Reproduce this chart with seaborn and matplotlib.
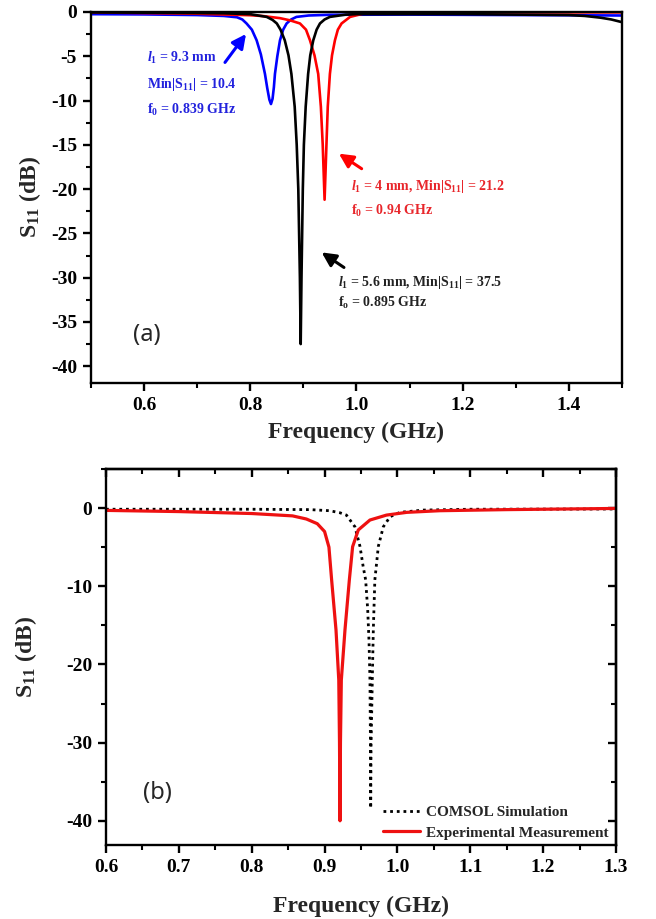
import numpy as np
import pandas as pd
import matplotlib
matplotlib.use("Agg")
import matplotlib.pyplot as plt
from matplotlib.ticker import MultipleLocator, FixedLocator
import seaborn as sns

# ---- (a) S11 for three stub lengths l1 ----
blue_f = [0.50, 0.60, 0.70, 0.75, 0.775, 0.785, 0.793, 0.803, 0.812, 0.820, 0.8277, 0.832, 0.836,
          0.839, 0.842, 0.8445, 0.8465, 0.851, 0.856, 0.862, 0.8685, 0.877, 0.887, 0.91, 0.95, 1.10,
          1.30, 1.50]
blue_db = [-0.25, -0.28, -0.35, -0.45, -0.6, -0.85, -1.3, -2.0, -3.2, -4.8, -7.0, -8.6, -9.9,
           -10.4, -9.8, -8.5, -7.0, -5.0, -3.2, -2.0, -1.3, -0.85, -0.56, -0.4, -0.32, -0.3,
           -0.35, -0.4]

black_f = [0.50, 0.65, 0.75, 0.80, 0.831, 0.842, 0.85, 0.857, 0.865, 0.872, 0.8775, 0.8837,
           0.8875, 0.8905, 0.8935, 0.895, 0.8965, 0.899, 0.901, 0.9044, 0.909, 0.913, 0.9187,
           0.925, 0.9313, 0.94, 0.95, 0.98, 1.0, 1.2, 1.3, 1.4, 1.43, 1.46, 1.48, 1.5]
black_db = [-0.05, -0.1, -0.15, -0.25, -0.56, -0.9, -1.3, -2.0, -3.2, -4.9, -7.0, -10.7,
            -15.0, -20.0, -30.0, -37.5, -30.0, -20.0, -15.0, -10.7, -7.0, -4.9, -3.2,
            -2.0, -1.3, -0.85, -0.56, -0.3, -0.25, -0.25, -0.3, -0.35, -0.45, -0.65, -0.85, -1.15]

red_f = [0.50, 0.70, 0.80, 0.825, 0.856, 0.875, 0.8936, 0.905, 0.9125, 0.921, 0.928, 0.933,
         0.9365, 0.94, 0.9435, 0.946, 0.950, 0.954, 0.9595, 0.965, 0.972, 0.988, 1.012, 1.10,
         1.30, 1.50]
red_db = [-0.05, -0.2, -0.37, -0.47, -0.7, -0.95, -1.3, -2.0, -3.2, -4.9, -7.0, -10.7,
          -15.0, -21.2, -15.0, -10.7, -7.0, -4.9, -3.2, -2.0, -1.3, -0.56, -0.2, -0.1,
          -0.05, -0.05]

# ---- (b) simulation vs measurement ----
sim_f = [0.60, 0.80, 0.88, 0.907, 0.921, 0.930, 0.9417, 0.9486, 0.953, 0.9564, 0.9592, 0.9610,
         0.9623, 0.9630, 0.9633, 0.9638, 0.9655, 0.9669, 0.969, 0.9738, 0.9806, 0.990, 1.0035,
         1.0355, 1.10, 1.30]
sim_db = [-0.15, -0.15, -0.2, -0.34, -0.6, -0.9, -2.4, -4.9, -7.5, -9.2, -13.0, -17.0,
          -22.0, -30.5, -38.4, -30.5, -22.0, -15.6, -9.2, -4.9, -2.4, -1.1, -0.55,
          -0.26, -0.15, -0.12]

meas_f = [0.60, 0.70, 0.80, 0.856, 0.875, 0.890, 0.900, 0.906, 0.9097, 0.9157, 0.9195, 0.9205,
          0.9212, 0.9218, 0.923, 0.928, 0.934, 0.9385, 0.9463, 0.9623, 0.985, 1.0127, 1.058,
          1.15, 1.20, 1.30]
meas_db = [-0.3, -0.45, -0.7, -1.0, -1.4, -2.0, -3.0, -5.0, -9.2, -15.6, -22.0, -30.0,
           -40.0, -30.0, -22.0, -15.6, -9.2, -4.94, -2.8, -1.53, -0.9, -0.55, -0.34,
           -0.2, -0.15, -0.05]

sns.set_theme(style="ticks")
plt.rcParams.update({
    "font.family": ["Liberation Serif", "DejaVu Serif"],
    "font.weight": "bold",
    "axes.labelweight": "bold",
    "mathtext.fontset": "custom",
    "mathtext.rm": "Liberation Serif:bold",
    "mathtext.it": "Liberation Serif:bold:italic",
    "mathtext.bf": "Liberation Serif:bold",
    "axes.linewidth": 1.7,
    "axes.edgecolor": "black",
    "xtick.color": "black",
    "ytick.color": "black",
})

fig = plt.figure(figsize=(6.56, 9.19), dpi=100)
ax1 = fig.add_axes([0.1387, 0.5832, 0.8093, 0.4038])
ax2 = fig.add_axes([0.1616, 0.0805, 0.7774, 0.4092])

BLUE, RED, BLACK = "#0000ff", "#ff0000", "#000000"

for f, d, c in [(blue_f, blue_db, BLUE), (red_f, red_db, RED), (black_f, black_db, BLACK)]:
    sns.lineplot(x=f, y=d, ax=ax1, color=c, lw=1.9, estimator=None, sort=False)

ax1.set_xlim(0.5, 1.5)
ax1.set_ylim(-41.9, 0)
ax1.xaxis.set_major_locator(FixedLocator([0.6, 0.8, 1.0, 1.2, 1.4]))
ax1.xaxis.set_minor_locator(MultipleLocator(0.1))
ax1.set_yticks([0, -5, -10, -15, -20, -25, -30, -35, -40])
ax1.set_yticklabels(["0", "-5", "-10", "-15", "-20", "-25", "-30", "-35", "-40"])
ax1.yaxis.set_minor_locator(MultipleLocator(2.5))
ax1.set_xticklabels(["0.6", "0.8", "1.0", "1.2", "1.4"])

ann_kw = dict(fontsize=10, fontweight="bold", ha="left", va="center")
ax1.text(0.605, -5.25, r"$l_1$ = 9.3 mm", color="#2222dd", **ann_kw)
ax1.text(0.605, -8.14, r"Min|S$_{11}$| = 10.4", color="#2222dd", **ann_kw)
ax1.text(0.605, -11.07, r"f$_0$ = 0.839 GHz", color="#2222dd", **ann_kw)
ax1.text(0.990, -19.7, r"$l_1$ = 4 mm, Min|S$_{11}$| = 21.2", color="#e8262b", **ann_kw)
ax1.text(0.990, -22.5, r"f$_0$ = 0.94 GHz", color="#e8262b", **ann_kw)
ax1.text(0.966, -30.5, r"$l_1$ = 5.6 mm, Min|S$_{11}$| = 37.5", color="#222222", **ann_kw)
ax1.text(0.966, -32.9, r"f$_{\mathregular{o}}$ = 0.895 GHz", color="#222222", **ann_kw)

arrow = dict(arrowstyle="-|>,head_length=0.7,head_width=0.35", lw=2.2, shrinkA=0, shrinkB=0)
ax1.annotate("", xy=(0.792, -2.49), xytext=(0.7524, -5.7), arrowprops=dict(color=BLUE, **arrow))
ax1.annotate("", xy=(0.967, -16.0), xytext=(1.0098, -17.7), arrowprops=dict(color=RED, **arrow))
ax1.annotate("", xy=(0.9345, -27.15), xytext=(0.9765, -28.85), arrowprops=dict(color=BLACK, **arrow))

ax1.text(0.605, -36.5, "(a)", fontsize=17, fontweight="normal", family=["Noto Sans", "DejaVu Sans"],
         ha="center", va="center")

# ---- panel (b) ----
sns.lineplot(x=sim_f, y=sim_db, ax=ax2, color=BLACK, lw=2.0, estimator=None, sort=False,
             label="COMSOL Simulation", linestyle=(0, (1, 1.4)))
sns.lineplot(x=meas_f, y=meas_db, ax=ax2, color="#ee1111", lw=2.3, estimator=None, sort=False,
             label="Experimental Measurement")
ax2.lines[0].set_dash_capstyle("butt")

ax2.set_xlim(0.6, 1.3)
ax2.set_ylim(-43.1, 5)
ax2.set_xticks(np.round(np.arange(0.6, 1.31, 0.1), 1))
ax2.set_xticklabels(["0.6", "0.7", "0.8", "0.9", "1.0", "1.1", "1.2", "1.3"])
ax2.xaxis.set_minor_locator(MultipleLocator(0.05))
ax2.set_yticks([0, -10, -20, -30, -40])
ax2.set_yticklabels(["0", "-10", "-20", "-30", "-40"])
ax2.yaxis.set_minor_locator(MultipleLocator(5))

leg = ax2.legend(loc="upper left", bbox_to_anchor=(0.543, 0.105), frameon=False,
                 prop={"family": "Liberation Serif", "weight": "bold", "size": 11},
                 handlelength=2.4, handletextpad=0.4, labelspacing=0.45, borderaxespad=0,
                 borderpad=0)
ax2.text(0.67, -36.4, "(b)", fontsize=17, fontweight="normal", family=["Noto Sans", "DejaVu Sans"],
         ha="center", va="center")

# mirrored inward ticks on top and right of (b)
sx = ax2.secondary_xaxis("top")
sx.set_xticks(np.round(np.arange(0.6, 1.31, 0.1), 1))
sx.xaxis.set_minor_locator(MultipleLocator(0.05))
sx.tick_params(which="major", direction="in", length=6, width=1.7, labeltop=False)
sx.tick_params(which="minor", direction="in", length=3.5, width=1.5)
sy = ax2.secondary_yaxis("right")
sy.set_yticks([0, -10, -20, -30, -40])
sy.yaxis.set_minor_locator(MultipleLocator(5))
sy.tick_params(which="major", direction="in", length=6, width=1.7, labelright=False)
sy.tick_params(which="minor", direction="in", length=3.5, width=1.5)

for ax in (ax1, ax2):
    for s in ax.spines.values():
        s.set_visible(True)
        s.set_linewidth(1.7)
    ax.tick_params(which="major", direction="out", length=6, width=1.7, labelsize=14, pad=4)
    ax.tick_params(which="minor", direction="out", length=3.5, width=1.5)
    ax.tick_params(top=False, right=False)
    for lab in ax.get_xticklabels() + ax.get_yticklabels():
        lab.set_fontweight("bold")
    ax.set_xlabel("Frequency (GHz)", fontsize=17, fontweight="bold")
    ax.set_ylabel(r"S$_{11}$ (dB)", fontsize=17, fontweight="bold")
    ax.grid(False)

ax1.xaxis.labelpad = 6
ax2.xaxis.labelpad = 14
ax1.yaxis.labelpad = 6
ax2.yaxis.labelpad = 19

fig.savefig("out.png", dpi=100, facecolor="white")
